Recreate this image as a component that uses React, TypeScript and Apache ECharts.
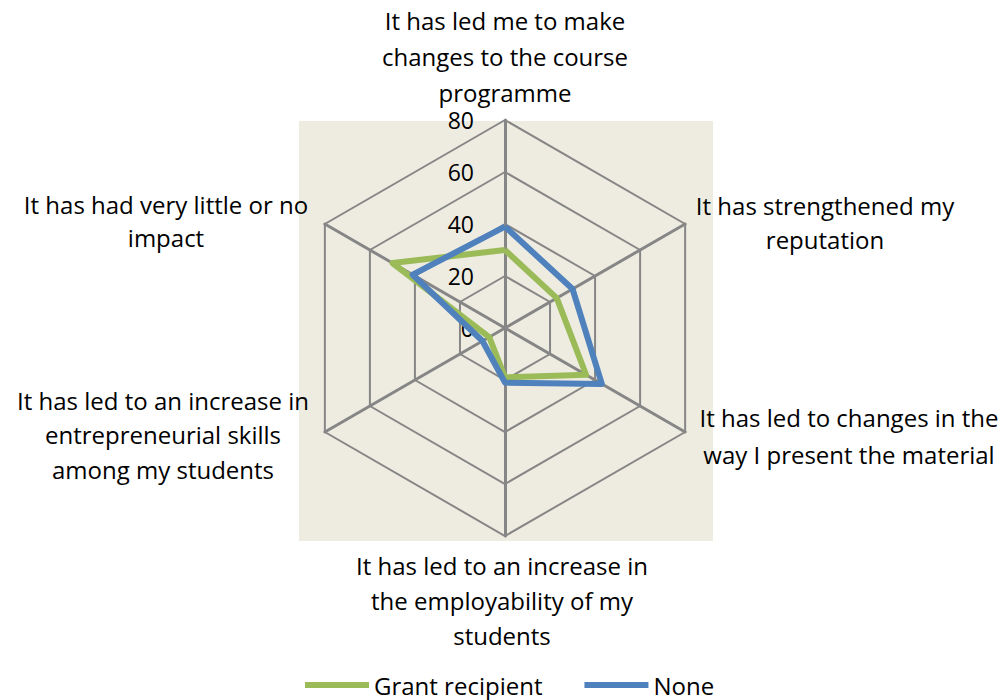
import React, { useEffect, useRef } from "react";
import * as echarts from "echarts";

// Categories in the reference's reading order (clockwise from the top)
const categories = [
  "It has led me to make\nchanges to the course\nprogramme",
  "It has strengthened my\nreputation",
  "It has led to changes in the\nway I present the material",
  "It has led to an increase in\nthe employability of my\nstudents",
  "It has led to an increase in\nentrepreneurial skills\namong my students",
  "It has had very little or no\nimpact",
];
const grantRecipient = [30, 23, 36, 19, 7, 50];
const noneValues = [39, 30, 43, 21, 10, 41];
const seriesNames = ["Grant recipient", "None"];
const axisMax = 80;
const splitCount = 4;

// label anchors (center x, middle of first line y, line height) for each category
const labelAnchors: [number, number, number][] = [
  [505, 20, 36],
  [825, 205, 34],
  [849, 417, 37],
  [502, 565, 35],
  [163, 400, 34.5],
  [166, 204, 33],
];

const FONT = "'Open Sans', sans-serif";
const FS = 24;

export default function App() {
  const ref = useRef<HTMLDivElement>(null);
  useEffect(() => {
    if (!ref.current) return;
    const chart = echarts.init(ref.current, undefined, { renderer: "svg" });
    // ECharts lays indicators counter-clockwise; reorder to be clockwise.
    const order = [0, 5, 4, 3, 2, 1];
    const indicator = order.map((i, k) => {
      const ind: any = { name: categories[i], max: axisMax, min: 0 };
      if (k === 0) {
        ind.axisLabel = {
          show: true,
          color: "#000",
          fontSize: 23,
          fontFamily: FONT,
          margin: 31,
          align: "right",
          verticalAlign: "middle",
          padding: [9, 0, 0, 0],
        };
      }
      return ind;
    });
    const reorder = (arr: number[]) => order.map((i) => arr[i]);

    const graphics: any[] = [
      {
        type: "rect",
        z: -10,
        shape: { x: 299, y: 121, width: 414, height: 420 },
        style: { fill: "#EEECE1" },
        silent: true,
      },
    ];
    categories.forEach((c, i) => {
      const [cx, cy, lh] = labelAnchors[i];
      graphics.push({
        type: "text",
        x: cx,
        y: cy - lh / 2,
        style: {
          text: c,
          fill: "#000",
          fontSize: FS,
          fontFamily: FONT,
          lineHeight: lh,
          align: "center",
          verticalAlign: "top",
          textAlign: "center",
          textVerticalAlign: "top",
        },
      });
    });

    chart.setOption({
      animation: false,
      backgroundColor: "#fff",
      graphic: graphics,
      legend: {
        data: seriesNames,
        left: 300,
        top: 668,
        icon: "rect",
        itemWidth: 64,
        itemHeight: 6,
        itemGap: 42,
        textStyle: { color: "#000", fontSize: FS, fontFamily: FONT, lineHeight: 24 },
      },
      radar: {
        center: [505, 328],
        radius: 208,
        startAngle: 90,
        splitNumber: splitCount,
        shape: "polygon",
        indicator,
        axisName: { show: false },
        axisLabel: { show: false },
        splitArea: { show: false },
        splitLine: { lineStyle: { color: "#868686", width: 2 } },
        axisLine: { lineStyle: { color: "#868686", width: 3 } },
        axisTick: { show: false },
      },
      series: [
        {
          type: "radar",
          symbol: "none",
          data: [
            {
              name: seriesNames[0],
              value: reorder(grantRecipient),
              lineStyle: { color: "#9BBB59", width: 6 },
              itemStyle: { color: "#9BBB59" },
            },
            {
              name: seriesNames[1],
              value: reorder(noneValues),
              lineStyle: { color: "#4F81BD", width: 6 },
              itemStyle: { color: "#4F81BD" },
            },
          ],
        },
      ],
    });
    return () => chart.dispose();
  }, []);
  return (
    <div
      ref={ref}
      style={{ position: "fixed", left: 0, top: 0, width: 1008, height: 700 }}
    />
  );
}
